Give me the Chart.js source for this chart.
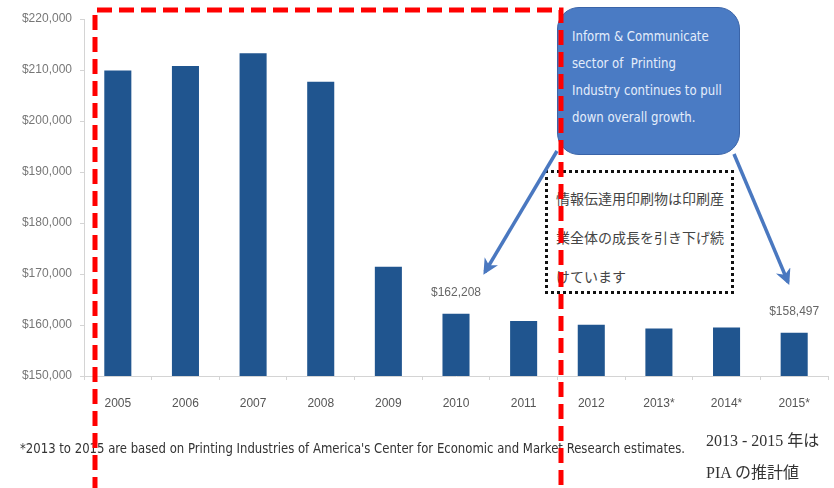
<!DOCTYPE html>
<html>
<head>
<meta charset="utf-8">
<script src="https://cdn.jsdelivr.net/npm/chart.js@4"></script>
<style>
  html, body { margin: 0; padding: 0; background: #fff; }
  #wrap { position: relative; width: 834px; height: 488px; overflow: hidden; }
  #chart { position: absolute; left: 0; top: 0; }
  .narrow { font-family: 'DejaVu Sans Condensed', 'Liberation Sans', sans-serif; }
  #callout {
    position: absolute; left: 557px; top: 7px; width: 183px; height: 148px;
    background: #4a7bc4; border: 1.5px solid #3a64a8; border-radius: 22px;
    box-sizing: border-box;
  }
  #callout div {
    position: absolute; left: 14px; color: #e4edfb; font-size: 14px; white-space: nowrap;
    transform-origin: 0 0;
  }
  #jpbox {
    position: absolute; left: 545px; top: 170px; width: 189px; height: 124px;
    border: 3px dotted #111; box-sizing: border-box; background: #fff;
  }
  #jpbox div {
    position: absolute; left: 8px; color: #444; font-size: 14px; white-space: nowrap;
    font-family: 'Noto Sans CJK JP', sans-serif;
  }
  #footnote {
    position: absolute; left: 20px; top: 440px; color: #333; font-size: 14px;
    white-space: nowrap; transform-origin: 0 0;
  }
  .pia {
    position: absolute; left: 706px; color: #333; font-size: 16px; white-space: nowrap;
    font-family: 'Liberation Serif', 'Noto Sans CJK JP', serif;
  }
  #overlay { position: absolute; left: 0; top: 0; }
</style>
</head>
<body>
<div id="wrap">
  <canvas id="chart" width="834" height="488"></canvas>

  <div id="callout" class="narrow">
    <div style="top:20px">Inform &amp; Communicate</div>
    <div style="top:47px">sector of&nbsp; Printing</div>
    <div style="top:74px">Industry continues to pull</div>
    <div style="top:101px">down overall growth.</div>
  </div>

  <div id="jpbox">
    <div style="top:15px">情報伝達用印刷物は印刷産</div>
    <div style="top:54px">業全体の成長を引き下げ続</div>
    <div style="top:93px">けています</div>
  </div>

  <div id="footnote" class="narrow">*2013 to 2015 are based on Printing Industries of America's Center for Economic and Market Research estimates.</div>
  <div class="pia" style="top:427px">2013 - 2015 年は</div>
  <div class="pia" style="top:459px">PIA の推計値</div>

  <svg id="overlay" width="834" height="488">
    <defs>
      <marker id="head" viewBox="0 0 10 10" refX="8" refY="5" markerWidth="4.5" markerHeight="4.5" orient="auto">
        <path d="M0,0 L10,5 L0,10 L3,5 z" fill="#4a78c0"/>
      </marker>
    </defs>
    <line x1="557" y1="151" x2="485" y2="272" stroke="#4a78c0" stroke-width="3.5" marker-end="url(#head)"/>
    <line x1="734" y1="154" x2="788" y2="282" stroke="#4a78c0" stroke-width="3.5" marker-end="url(#head)"/>
    <path d="M95,492 V10 H561 V492" fill="none" stroke="#f00" stroke-width="5" stroke-dasharray="15 7"/>
  </svg>
</div>

<script>
// revenue by year, 2013-2015 are estimates
const years = ['2005', '2006', '2007', '2008', '2009', '2010', '2011', '2012', '2013*', '2014*', '2015*'];
const revenue = [209900, 210800, 213300, 207700, 171400, 162208, 160800, 160050, 159300, 159500, 158497];
const labeledYears = ['2010', '2015*'];
const yTicks = [150000, 160000, 170000, 180000, 190000, 200000, 210000, 220000];

const tickFont = { family: "'Liberation Sans', Arial, sans-serif", size: 12 };
const money = v => '$' + v.toLocaleString('en-US');

// value labels above selected bars
const valueLabels = {
    id: 'valueLabels',
    afterDatasetsDraw(chart) {
        const ctx = chart.ctx;
        const meta = chart.getDatasetMeta(0);
        ctx.save();
        ctx.font = `12px ${tickFont.family}`;
        ctx.fillStyle = '#666';
        ctx.textAlign = 'center';
        ctx.textBaseline = 'middle';
        labeledYears.forEach(y => {
            const i = years.indexOf(y);
            const bar = meta.data[i];
            ctx.fillText(money(revenue[i]), bar.x, bar.y - 21);
        });
        ctx.restore();
    }
};

const ctx = document.getElementById('chart').getContext('2d');
new Chart(ctx, {
    type: 'bar',
    data: {
        labels: years,
        datasets: [{
            data: revenue,
            backgroundColor: '#20558f',
            borderWidth: 0,
            barPercentage: 0.4,
            categoryPercentage: 1.0
        }]
    },
    options: {
        responsive: false,
        animation: false,
        devicePixelRatio: 1,
        layout: { padding: { top: 19, right: 6, left: 0, bottom: 0 } },
        plugins: {
            legend: { display: false },
            tooltip: { enabled: false }
        },
        scales: {
            x: {
                grid: { offset: true, drawOnChartArea: false, tickLength: 4, color: '#d4d4d4' },
                border: { color: '#d4d4d4' },
                ticks: { font: tickFont, color: '#555', padding: 16, maxRotation: 0 },
                afterFit: s => { s.height = 112; }
            },
            y: {
                min: 150000,
                max: 220000,
                afterBuildTicks: s => { s.ticks = yTicks.map(v => ({ value: v })); },
                grid: { drawOnChartArea: false, tickLength: 4, color: '#d4d4d4' },
                border: { color: '#d4d4d4' },
                ticks: { font: tickFont, color: '#777', padding: 8, callback: v => money(v) },
                afterFit: s => { s.width = 84; }
            }
        }
    },
    plugins: [valueLabels]
});

// squeeze long lines of text to their width
const fn = document.getElementById('footnote');
fn.style.transform = `scaleX(${665 / fn.scrollWidth})`;

const calloutLines = [...document.querySelectorAll('#callout div')];
const widest = Math.max(...calloutLines.map(d => d.scrollWidth));
calloutLines.forEach(d => { d.style.transform = `scaleX(${150 / widest})`; });
</script>
</body>
</html>
